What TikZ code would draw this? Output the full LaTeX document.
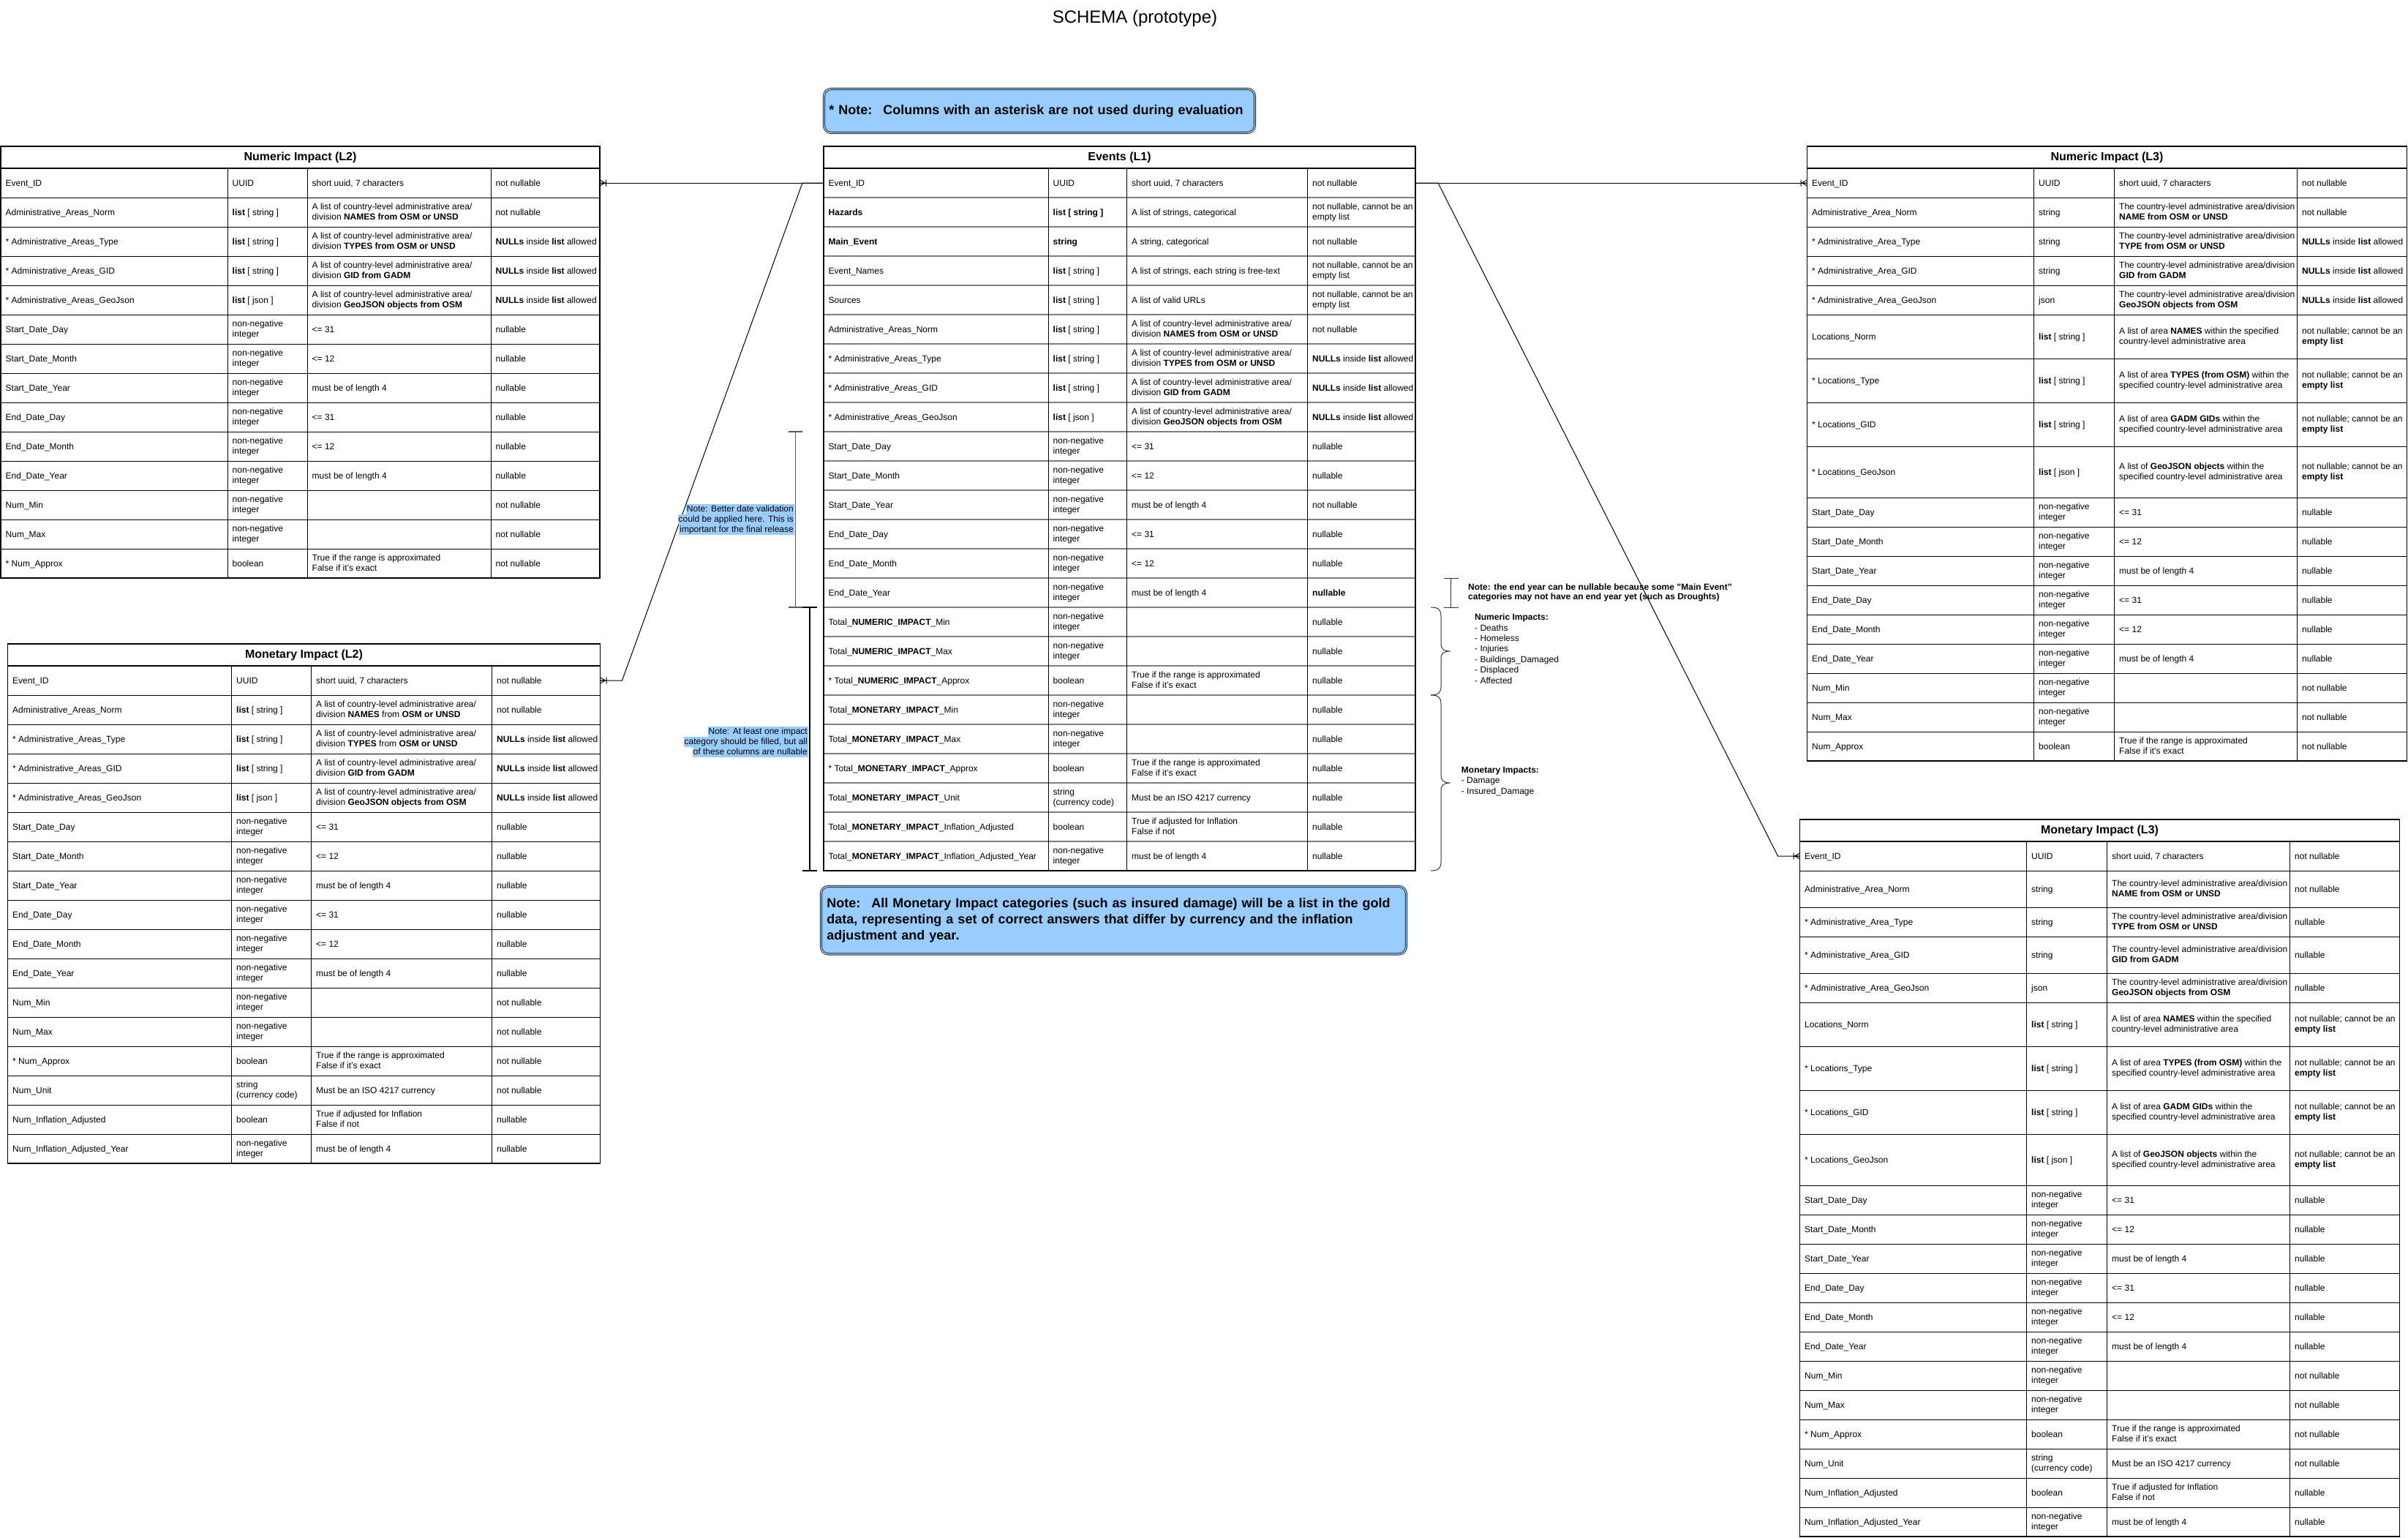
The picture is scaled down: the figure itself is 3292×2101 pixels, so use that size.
\documentclass[tikz,border=0pt]{standalone}
\usepackage{fontspec}
\setmainfont{Liberation Sans}
\usetikzlibrary{calc}
\definecolor{noteblue}{HTML}{99CCFF}

% shorthand cell texts
\newcommand\TNonNeg{non-negative\\integer}
\newcommand\TListStr{\textbf{list} [ string ]}
\newcommand\TListJson{\textbf{list} [ json ]}
\newcommand\TCtryList{A list of country-level administrative area/\\division }
\newcommand\TCtryThe{The country-level administrative area/division\\}
\newcommand\TNulls{\textbf{NULLs} inside \textbf{list} allowed}
\newcommand\TNotEmpty{not nullable; cannot be an\\\textbf{empty list}}
\newcommand\TNotEmptyB{not nullable, cannot be an\\empty list}
\newcommand\TSpec{specified country-level administrative area}
\newcommand\TApprox{True if the range is approximated\\False if it's exact}
\newcommand\TInfl{True if adjusted for Inflation\\False if not}
\newcommand\TCur{string\\(currency code)}

% table helpers: columns, header, rows, closing frame
\newcommand\TCols[5]{\def\xa{#1}\def\xb{#2}\def\xc{#3}\def\xd{#4}\def\xe{#5}}
\newcommand\THead[4]{%
  \xdef\ytop{#2}%
  \pgfmathsetmacro\tmpy{#2+#3}\xdef\ycur{\tmpy}\xdef\yhb{\tmpy}%
  \node[headtxt] (#1) at ({(\xa+\xe)/2},{#2+#3/2}) {#4};%
  \draw[outline] (\xa,\yhb) -- (\xe,\yhb);%
}
\newcommand\TRow[6]{%
  \pgfmathsetmacro\ymid{\ycur+#2/2}%
  \pgfmathsetmacro\ynext{\ycur+#2}%
  \coordinate (#1L) at (\xa,\ymid);%
  \coordinate (#1R) at (\xe,\ymid);%
  \node[cell] (#1a) at (\xa+6.5,\ymid) {#3};%
  \node[cell] (#1b) at (\xb+6.5,\ymid) {#4};%
  \node[cell] (#1c) at (\xc+6.5,\ymid) {#5};%
  \node[cell] (#1d) at (\xd+6.5,\ymid) {#6};%
  \draw[sepline] (\xa,\ynext) -- (\xe,\ynext);%
  \xdef\ycur{\ynext}%
}
\newcommand\TEnd{%
  \draw[colline] (\xb,\yhb) -- (\xb,\ycur) (\xc,\yhb) -- (\xc,\ycur) (\xd,\yhb) -- (\xd,\ycur);%
  \draw[outline] (\xa,\ytop) rectangle (\xe,\ycur);%
}

\tikzset{
  cell/.style={anchor=west, inner sep=0pt, align=left, yshift=-1.4pt,
    font=\fontsize{12}{14.4}\selectfont,
    execute at begin node=\strut, execute at end node=\strut},
  headtxt/.style={inner sep=0pt, font=\fontsize{16}{19}\selectfont\bfseries},
  outline/.style={draw=black, line width=1.1pt},
  sepline/.style={draw=black, line width=1pt},
  colline/.style={draw=black, line width=1pt},
  conn/.style={draw=black, line width=1pt},
  hl/.style={fill=noteblue, inner xsep=1pt, inner ysep=0pt, text height=10pt, text depth=3.2pt, font=\fontsize{12}{14}\selectfont},
  notebox/.style={rounded corners=10pt, fill=noteblue, draw=black!85, line width=0.9pt, double=noteblue, double distance=1.4pt, font=\fontsize{18}{22}\selectfont\bfseries, align=left},
  plaintxt/.style={anchor=west, inner sep=0pt, align=left, font=\fontsize{12}{14.4}\selectfont},
}

\begin{document}
\begin{tikzpicture}[x=1pt, y=-1pt]
\useasboundingbox (0,0) rectangle (3292,2101);
\fill[white] (0,0) rectangle (3292,2101);

% title and notes
\node[font=\fontsize{24}{28}\selectfont] (title) at (1551.5,25) {SCHEMA (prototype)};
\node[notebox, anchor=north west, minimum width=589pt, minimum height=60pt, text width=575pt, inner xsep=7pt] (topnote) at (1126,121)
  {* Note:~ Columns with an asterisk are not used during evaluation};
\node[notebox, anchor=north west, minimum width=800pt, minimum height=92.5pt, text width=784pt, inner xsep=8pt] (goldnote) at (1122,1211)
  {Note:~ All Monetary Impact categories (such as insured damage) will be a list in the gold\\data, representing a set of correct answers that differ by currency and the inflation\\adjustment and year.};

% ---------- Numeric Impact (L2) ----------
\TCols{1}{311}{420}{671}{820}
\THead{nltwo}{200}{30}{Numeric Impact (L2)}
\TRow{na1}{40}{Event\_ID}{UUID}{short uuid, 7 characters}{not nullable}
\TRow{na2}{40}{Administrative\_Areas\_Norm}{\TListStr}{\TCtryList\textbf{NAMES from OSM or UNSD}}{not nullable}
\TRow{na3}{40}{* Administrative\_Areas\_Type}{\TListStr}{\TCtryList\textbf{TYPES from OSM or UNSD}}{\TNulls}
\TRow{na4}{40}{* Administrative\_Areas\_GID}{\TListStr}{\TCtryList\textbf{GID from GADM}}{\TNulls}
\TRow{na5}{40}{* Administrative\_Areas\_GeoJson}{\TListJson}{\TCtryList\textbf{GeoJSON objects from OSM}}{\TNulls}
\TRow{na6}{40}{Start\_Date\_Day}{\TNonNeg}{<= 31}{nullable}
\TRow{na7}{40}{Start\_Date\_Month}{\TNonNeg}{<= 12}{nullable}
\TRow{na8}{40}{Start\_Date\_Year}{\TNonNeg}{must be of length 4}{nullable}
\TRow{na9}{40}{End\_Date\_Day}{\TNonNeg}{<= 31}{nullable}
\TRow{na10}{40}{End\_Date\_Month}{\TNonNeg}{<= 12}{nullable}
\TRow{na11}{40}{End\_Date\_Year}{\TNonNeg}{must be of length 4}{nullable}
\TRow{na12}{40}{Num\_Min}{\TNonNeg}{}{not nullable}
\TRow{na13}{40}{Num\_Max}{\TNonNeg}{}{not nullable}
\TRow{na14}{40}{* Num\_Approx}{boolean}{\TApprox}{not nullable}
\TEnd

% ---------- Monetary Impact (L2) ----------
\TCols{10.5}{316.5}{425.5}{672.5}{820.5}
\THead{mltwo}{880}{30}{Monetary Impact (L2)}
\TRow{ma1}{40}{Event\_ID}{UUID}{short uuid, 7 characters}{not nullable}
\TRow{ma2}{40}{Administrative\_Areas\_Norm}{\TListStr}{\TCtryList\textbf{NAMES} from \textbf{OSM or UNSD}}{not nullable}
\TRow{ma3}{40}{* Administrative\_Areas\_Type}{\TListStr}{\TCtryList\textbf{TYPES} from \textbf{OSM or UNSD}}{\TNulls}
\TRow{ma4}{40}{* Administrative\_Areas\_GID}{\TListStr}{\TCtryList\textbf{GID from GADM}}{\TNulls}
\TRow{ma5}{40}{* Administrative\_Areas\_GeoJson}{\TListJson}{\TCtryList\textbf{GeoJSON objects from OSM}}{\TNulls}
\TRow{ma6}{40}{Start\_Date\_Day}{\TNonNeg}{<= 31}{nullable}
\TRow{ma7}{40}{Start\_Date\_Month}{\TNonNeg}{<= 12}{nullable}
\TRow{ma8}{40}{Start\_Date\_Year}{\TNonNeg}{must be of length 4}{nullable}
\TRow{ma9}{40}{End\_Date\_Day}{\TNonNeg}{<= 31}{nullable}
\TRow{ma10}{40}{End\_Date\_Month}{\TNonNeg}{<= 12}{nullable}
\TRow{ma11}{40}{End\_Date\_Year}{\TNonNeg}{must be of length 4}{nullable}
\TRow{ma12}{40}{Num\_Min}{\TNonNeg}{}{not nullable}
\TRow{ma13}{40}{Num\_Max}{\TNonNeg}{}{not nullable}
\TRow{ma14}{40}{* Num\_Approx}{boolean}{\TApprox}{not nullable}
\TRow{ma15}{40}{Num\_Unit}{\TCur}{Must be an ISO 4217 currency}{not nullable}
\TRow{ma16}{40}{Num\_Inflation\_Adjusted}{boolean}{\TInfl}{nullable}
\TRow{ma17}{40}{Num\_Inflation\_Adjusted\_Year}{\TNonNeg}{must be of length 4}{nullable}
\TEnd

% ---------- Events (L1) ----------
\tikzset{sepline/.style={draw=black!50, line width=1.6pt}}
\TCols{1126}{1433}{1540.5}{1787.5}{1935}
\THead{events}{200}{30}{Events (L1)}
\TRow{ev1}{40}{Event\_ID}{UUID}{short uuid, 7 characters}{not nullable}
\TRow{ev2}{40}{\textbf{Hazards}}{\textbf{list [ string ]}}{A list of strings, categorical}{\TNotEmptyB}
\TRow{ev3}{40}{\textbf{Main\_Event}}{\textbf{string}}{A string, categorical}{not nullable}
\TRow{ev4}{40}{Event\_Names}{\TListStr}{A list of strings, each string is free-text}{\TNotEmptyB}
\TRow{ev5}{40}{Sources}{\TListStr}{A list of valid URLs}{\TNotEmptyB}
\TRow{ev6}{40}{Administrative\_Areas\_Norm}{\TListStr}{\TCtryList\textbf{NAMES from OSM or UNSD}}{not nullable}
\TRow{ev7}{40}{* Administrative\_Areas\_Type}{\TListStr}{\TCtryList\textbf{TYPES from OSM or UNSD}}{\TNulls}
\TRow{ev8}{40}{* Administrative\_Areas\_GID}{\TListStr}{\TCtryList\textbf{GID from GADM}}{\TNulls}
\TRow{ev9}{40}{* Administrative\_Areas\_GeoJson}{\TListJson}{\TCtryList\textbf{GeoJSON objects from OSM}}{\TNulls}
\TRow{ev10}{40}{Start\_Date\_Day}{\TNonNeg}{<= 31}{nullable}
\TRow{ev11}{40}{Start\_Date\_Month}{\TNonNeg}{<= 12}{nullable}
\TRow{ev12}{40}{Start\_Date\_Year}{\TNonNeg}{must be of length 4}{not nullable}
\TRow{ev13}{40}{End\_Date\_Day}{\TNonNeg}{<= 31}{nullable}
\TRow{ev14}{40}{End\_Date\_Month}{\TNonNeg}{<= 12}{nullable}
\TRow{ev15}{40}{End\_Date\_Year}{\TNonNeg}{must be of length 4}{\textbf{nullable}}
\TRow{ev16}{40}{Total\_\textbf{NUMERIC\_IMPACT}\_Min}{\TNonNeg}{}{nullable}
\TRow{ev17}{40}{Total\_\textbf{NUMERIC\_IMPACT}\_Max}{\TNonNeg}{}{nullable}
\TRow{ev18}{40}{* Total\_\textbf{NUMERIC\_IMPACT}\_Approx}{boolean}{\TApprox}{nullable}
\TRow{ev19}{40}{Total\_\textbf{MONETARY\_IMPACT}\_Min}{\TNonNeg}{}{nullable}
\TRow{ev20}{40}{Total\_\textbf{MONETARY\_IMPACT}\_Max}{\TNonNeg}{}{nullable}
\TRow{ev21}{40}{* Total\_\textbf{MONETARY\_IMPACT}\_Approx}{boolean}{\TApprox}{nullable}
\TRow{ev22}{40}{Total\_\textbf{MONETARY\_IMPACT}\_Unit}{\TCur}{Must be an ISO 4217 currency}{nullable}
\TRow{ev23}{40}{Total\_\textbf{MONETARY\_IMPACT}\_Inflation\_Adjusted}{boolean}{\TInfl}{nullable}
\TRow{ev24}{40}{Total\_\textbf{MONETARY\_IMPACT}\_Inflation\_Adjusted\_Year}{\TNonNeg}{must be of length 4}{nullable}
\TEnd
\tikzset{sepline/.style={draw=black, line width=1pt}}

% ---------- Numeric Impact (L3) ----------
\TCols{2470.5}{2780.5}{2890.5}{3140.5}{3290.5}
\THead{nlthree}{200}{30}{Numeric Impact (L3)}
\TRow{nb1}{40}{Event\_ID}{UUID}{short uuid, 7 characters}{not nullable}
\TRow{nb2}{40}{Administrative\_Area\_Norm}{string}{\TCtryThe\textbf{NAME from OSM or UNSD}}{not nullable}
\TRow{nb3}{40}{* Administrative\_Area\_Type}{string}{\TCtryThe\textbf{TYPE from OSM or UNSD}}{\TNulls}
\TRow{nb4}{40}{* Administrative\_Area\_GID}{string}{\TCtryThe\textbf{GID from GADM}}{\TNulls}
\TRow{nb5}{40}{* Administrative\_Area\_GeoJson}{json}{\TCtryThe\textbf{GeoJSON objects from OSM}}{\TNulls}
\TRow{nb6}{60}{Locations\_Norm}{\TListStr}{A list of area \textbf{NAMES} within the specified\\country-level administrative area}{\TNotEmpty}
\TRow{nb7}{60}{* Locations\_Type}{\TListStr}{A list of area \textbf{TYPES (from OSM)} within the\\\TSpec}{\TNotEmpty}
\TRow{nb8}{60}{* Locations\_GID}{\TListStr}{A list of area \textbf{GADM GIDs} within the\\\TSpec}{\TNotEmpty}
\TRow{nb9}{70}{* Locations\_GeoJson}{\TListJson}{A list of \textbf{GeoJSON objects} within the\\\TSpec}{\TNotEmpty}
\TRow{nb10}{40}{Start\_Date\_Day}{\TNonNeg}{<= 31}{nullable}
\TRow{nb11}{40}{Start\_Date\_Month}{\TNonNeg}{<= 12}{nullable}
\TRow{nb12}{40}{Start\_Date\_Year}{\TNonNeg}{must be of length 4}{nullable}
\TRow{nb13}{40}{End\_Date\_Day}{\TNonNeg}{<= 31}{nullable}
\TRow{nb14}{40}{End\_Date\_Month}{\TNonNeg}{<= 12}{nullable}
\TRow{nb15}{40}{End\_Date\_Year}{\TNonNeg}{must be of length 4}{nullable}
\TRow{nb16}{40}{Num\_Min}{\TNonNeg}{}{not nullable}
\TRow{nb17}{40}{Num\_Max}{\TNonNeg}{}{not nullable}
\TRow{nb18}{40}{Num\_Approx}{boolean}{\TApprox}{not nullable}
\TEnd

% ---------- Monetary Impact (L3) ----------
\TCols{2460.5}{2770.5}{2880.5}{3130.5}{3280.5}
\THead{mlthree}{1120}{30}{Monetary Impact (L3)}
\TRow{mb1}{40}{Event\_ID}{UUID}{short uuid, 7 characters}{not nullable}
\TRow{mb2}{50}{Administrative\_Area\_Norm}{string}{\TCtryThe\textbf{NAME from OSM or UNSD}}{not nullable}
\TRow{mb3}{40}{* Administrative\_Area\_Type}{string}{\TCtryThe\textbf{TYPE from OSM or UNSD}}{nullable}
\TRow{mb4}{50}{* Administrative\_Area\_GID}{string}{\TCtryThe\textbf{GID from GADM}}{nullable}
\TRow{mb5}{40}{* Administrative\_Area\_GeoJson}{json}{\TCtryThe\textbf{GeoJSON objects from OSM}}{nullable}
\TRow{mb6}{60}{Locations\_Norm}{\TListStr}{A list of area \textbf{NAMES} within the specified\\country-level administrative area}{\TNotEmpty}
\TRow{mb7}{60}{* Locations\_Type}{\TListStr}{A list of area \textbf{TYPES (from OSM)} within the\\\TSpec}{\TNotEmpty}
\TRow{mb8}{60}{* Locations\_GID}{\TListStr}{A list of area \textbf{GADM GIDs} within the\\\TSpec}{\TNotEmpty}
\TRow{mb9}{70}{* Locations\_GeoJson}{\TListJson}{A list of \textbf{GeoJSON objects} within the\\\TSpec}{\TNotEmpty}
\TRow{mb10}{40}{Start\_Date\_Day}{\TNonNeg}{<= 31}{nullable}
\TRow{mb11}{40}{Start\_Date\_Month}{\TNonNeg}{<= 12}{nullable}
\TRow{mb12}{40}{Start\_Date\_Year}{\TNonNeg}{must be of length 4}{nullable}
\TRow{mb13}{40}{End\_Date\_Day}{\TNonNeg}{<= 31}{nullable}
\TRow{mb14}{40}{End\_Date\_Month}{\TNonNeg}{<= 12}{nullable}
\TRow{mb15}{40}{End\_Date\_Year}{\TNonNeg}{must be of length 4}{nullable}
\TRow{mb16}{40}{Num\_Min}{\TNonNeg}{}{not nullable}
\TRow{mb17}{40}{Num\_Max}{\TNonNeg}{}{not nullable}
\TRow{mb18}{40}{* Num\_Approx}{boolean}{\TApprox}{not nullable}
\TRow{mb19}{40}{Num\_Unit}{\TCur}{Must be an ISO 4217 currency}{not nullable}
\TRow{mb20}{40}{Num\_Inflation\_Adjusted}{boolean}{\TInfl}{nullable}
\TRow{mb21}{40}{Num\_Inflation\_Adjusted\_Year}{\TNonNeg}{must be of length 4}{nullable}
\TEnd

% ---------- relations (one-to-many on Event_ID) ----------
\draw[conn] (ev1L) -- (na1R);
\draw[conn] (ev1L) -- ++(-29,0) -- ($(ma1R)+(30,0)$) -- (ma1R);
\draw[conn] (ev1R) -- (nb1L);
\draw[conn] (ev1R) -- ++(31,0) -- ($(mb1L)+(-30,0)$) -- (mb1L);
\draw[conn, shift={(na1R)}] (0,-4) -- (7,0) -- (0,4) (0,0) -- (7,0) (8.5,-4.5) -- (8.5,4.5);
\draw[conn, shift={(ma1R)}] (0,-4) -- (7,0) -- (0,4) (0,0) -- (7,0) (8.5,-4.5) -- (8.5,4.5);
\draw[conn, shift={(nb1L)}, xscale=-1] (0,-4) -- (7,0) -- (0,4) (0,0) -- (7,0) (8.5,-4.5) -- (8.5,4.5);
\draw[conn, shift={(mb1L)}, xscale=-1] (0,-4) -- (7,0) -- (0,4) (0,0) -- (7,0) (8.5,-4.5) -- (8.5,4.5);

% ---------- range markers beside Events ----------
\draw[draw=black!65, line width=1.3pt] (1078,590) -- (1097,590) (1087.5,590) -- (1087.5,830) (1078,830) -- (1097,830);
\draw[draw=black, line width=1.3pt] (1097,830) -- (1117,830) (1107,830) -- (1107,1190) (1097,1190) -- (1117,1190);
\draw[draw=black!80, line width=1pt] (1973.5,790.5) -- (1993.5,790.5) (1983.5,790.5) -- (1983.5,830) (1973.5,830) -- (1993.5,830);
\draw[draw=black!80, line width=1pt]
  (1956,830) .. controls (1966,830) and (1970,833) .. (1970,842) -- (1970,880)
  .. controls (1970,887) and (1974,890) .. (1982.5,890)
  .. controls (1974,890) and (1970,893) .. (1970,900) -- (1970,938)
  .. controls (1970,947) and (1966,950) .. (1956,950);
\draw[draw=black!80, line width=1pt]
  (1956,950) .. controls (1966,950) and (1970,953) .. (1970,962) -- (1970,1060)
  .. controls (1970,1067) and (1974,1070) .. (1982.5,1070)
  .. controls (1974,1070) and (1970,1073) .. (1970,1080) -- (1970,1178)
  .. controls (1970,1187) and (1966,1190) .. (1956,1190);

% ---------- side notes ----------
\node[hl, anchor=east] (dv1) at (1086,696) {Note: Better date validation};
\node[hl, anchor=east] (dv2) at (1086,710) {could be applied here. This is};
\node[hl, anchor=east] (dv3) at (1086,724) {important for the final release};
\node[hl, anchor=east] (im1) at (1105,1000) {Note: At least one impact};
\node[hl, anchor=east] (im2) at (1105,1014) {category should be filled, but all};
\node[hl, anchor=east] (im3) at (1105,1028) {of these columns are nullable};

\node[plaintxt, font=\fontsize{12}{13.5}\selectfont\bfseries] (endnote) at (2007,810)
  {Note: the end year can be nullable because some "Main Event"\\categories may not have an end year yet (such as Droughts)};
\node[plaintxt] (numlist) at (2016,886.5)
  {\textbf{Numeric Impacts:}\\- Deaths\\- Homeless\\- Injuries\\- Buildings\_Damaged\\- Displaced\\- Affected};
\node[plaintxt] (monlist) at (1997.7,1068)
  {\textbf{Monetary Impacts:}\\- Damage\\- Insured\_Damage};
\end{tikzpicture}
\end{document}
